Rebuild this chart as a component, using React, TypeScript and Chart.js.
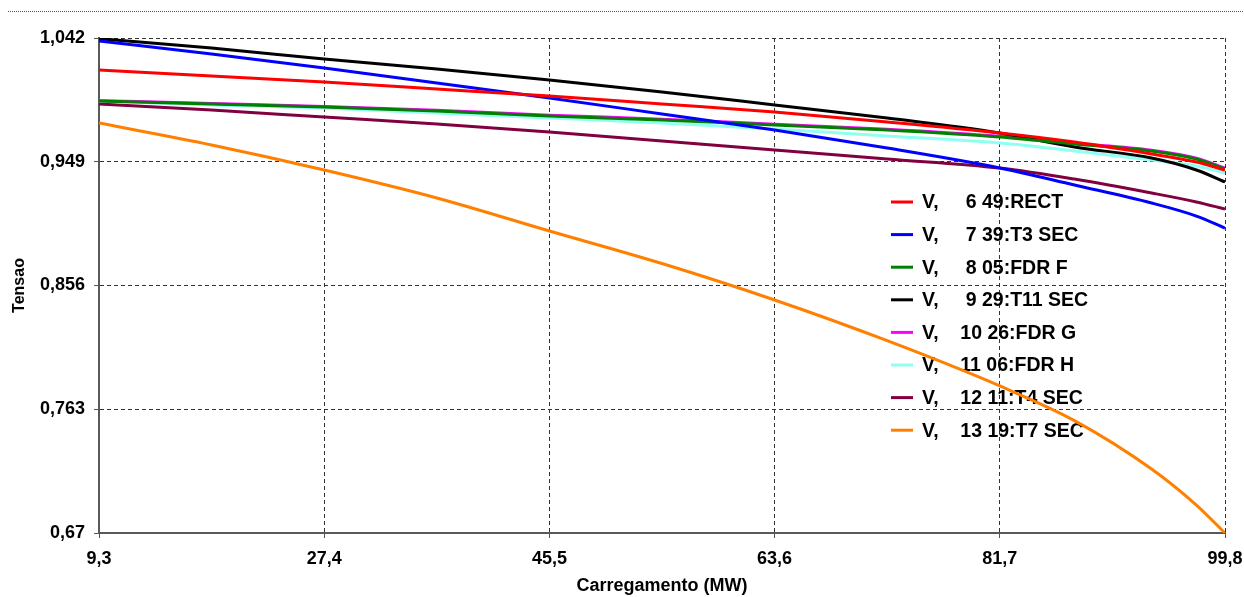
import React, { useEffect, useRef } from 'react';
import { Chart, registerables } from 'chart.js';

Chart.register(...registerables);

// Loading (MW) sample points
const loads = [9.3, 18.35, 27.4, 36.45, 45.5, 54.55, 63.6, 72.65, 81.7, 87.7, 93.9, 97.5, 99.8];

const seriesLabels = [
  'V,     6 49:RECT',
  'V,     7 39:T3 SEC',
  'V,     8 05:FDR F',
  'V,     9 29:T11 SEC',
  'V,    10 26:FDR G',
  'V,    11 06:FDR H',
  'V,    12 11:T4 SEC',
  'V,    13 19:T7 SEC',
];

const seriesColors = ['#FF0000', '#0000FF', '#008000', '#000000', '#FF00FF', '#8FFFEF', '#800040', '#FF8000'];

const v649 = [1.018, 1.0134, 1.0089, 1.0037, 0.9984, 0.9924, 0.9864, 0.9789, 0.9706, 0.9638, 0.9548, 0.9488, 0.9428];
const v739 = [1.0397, 1.03, 1.0195, 1.0082, 0.9969, 0.9849, 0.9729, 0.9593, 0.9443, 0.9315, 0.918, 0.9082, 0.8992];
const v805 = [0.9947, 0.9924, 0.9901, 0.9871, 0.9834, 0.9804, 0.9766, 0.9729, 0.9676, 0.9623, 0.9571, 0.9511, 0.9436];
const v929 = [1.0415, 1.0345, 1.0262, 1.0187, 1.0104, 1.0014, 0.9917, 0.9819, 0.9706, 0.9601, 0.9518, 0.9428, 0.9338];
const v1026 = [0.9949, 0.9928, 0.9906, 0.9877, 0.984, 0.981, 0.9772, 0.9735, 0.9682, 0.9629, 0.9577, 0.9517, 0.9442];
const v1106 = [0.9947, 0.9917, 0.9894, 0.9856, 0.9819, 0.9781, 0.9736, 0.9684, 0.9631, 0.9571, 0.9503, 0.9458, 0.9405];
const v1211 = [0.9924, 0.9879, 0.9826, 0.9774, 0.9714, 0.9646, 0.9578, 0.9511, 0.9443, 0.936, 0.9255, 0.9188, 0.9135];
const v1319 = [0.9781, 0.9616, 0.9428, 0.9218, 0.897, 0.8725, 0.8451, 0.8145, 0.7805, 0.7545, 0.7181, 0.691, 0.67];

const seriesValues = [v649, v739, v805, v929, v1026, v1106, v1211, v1319];

const xTicks = [9.3, 27.4, 45.5, 63.6, 81.7, 99.8];
const xTickLabels = ['9,3', '27,4', '45,5', '63,6', '81,7', '99,8'];
const yTicks = [0.67, 0.763, 0.856, 0.949, 1.042];
const yTickLabels = ['0,67', '0,763', '0,856', '0,949', '1,042'];

const FONT = '"Liberation Sans", Arial, sans-serif';

const pagePlugin = {
  id: 'pageLine',
  beforeDraw(chart: any) {
    const ctx = chart.ctx;
    ctx.save();
    ctx.strokeStyle = '#555';
    ctx.lineWidth = 1;
    ctx.setLineDash([1, 1]);
    ctx.beginPath();
    ctx.moveTo(8, 11.5);
    ctx.lineTo(chart.width, 11.5);
    ctx.stroke();
    ctx.restore();
  },
};

const legendPlugin = {
  id: 'insideLegend',
  beforeDatasetsDraw(chart: any) {
    const ctx = chart.ctx;
    const ca = chart.chartArea;
    const x0 = ca.left + 792;
    const y0 = ca.top + 164;
    const step = 32.6;
    ctx.save();
    chart.data.datasets.forEach((ds: any, i: number) => {
      const y = y0 + i * step;
      ctx.strokeStyle = ds.borderColor;
      ctx.lineWidth = 3;
      ctx.setLineDash([]);
      ctx.beginPath();
      ctx.moveTo(x0, y);
      ctx.lineTo(x0 + 22, y);
      ctx.stroke();
      ctx.fillStyle = '#000';
      ctx.font = 'bold 19.5px ' + FONT;
      ctx.textBaseline = 'middle';
      ctx.textAlign = 'left';
      ctx.fillText(ds.label, x0 + 31, y + 1);
    });
    ctx.restore();
  },
};

export default function App() {
  const ref = useRef<HTMLCanvasElement>(null);

  useEffect(() => {
    if (!ref.current) return;
    const datasets = seriesValues.map((vals, i) => ({
      label: seriesLabels[i],
      data: loads.map((x, j) => ({ x, y: vals[j] })),
      borderColor: seriesColors[i],
      backgroundColor: seriesColors[i],
      borderWidth: 3,
      pointRadius: 0,
      fill: false,
      cubicInterpolationMode: 'monotone' as const,
    }));

    const gridCommon = {
      color: '#333',
      lineWidth: 1,
      borderDash: [4, 3],
      drawTicks: true,
      tickLength: 5,
      tickColor: '#555',
      tickWidth: 1,
      tickBorderDash: [],
    };

    const chart = new Chart(ref.current, {
      type: 'line',
      data: { datasets },
      plugins: [pagePlugin, legendPlugin],
      options: {
        animation: false,
        responsive: false,
        maintainAspectRatio: false,
        layout: { padding: { left: 0, top: 38, right: 19, bottom: 0 } },
        plugins: { legend: { display: false }, tooltip: { enabled: false } },
        scales: {
          x: {
            type: 'linear',
            min: 9.3,
            max: 99.8,
            afterBuildTicks: (s: any) => {
              s.ticks = xTicks.map((v) => ({ value: v }));
            },
            afterFit: (s: any) => {
              s.height = 64;
              s.paddingLeft = 0;
              s.paddingRight = 0;
            },
            ticks: {
              color: '#000',
              padding: 10,
              maxRotation: 0,
              autoSkip: false,
              font: { family: FONT, size: 18, weight: 'bold' },
              callback: (_v: any, i: number) => xTickLabels[i],
            },
            grid: gridCommon as any,
            border: { display: true, color: '#595959', width: 2, dash: [4, 3] },
            title: {
              display: true,
              text: 'Carregamento (MW)',
              color: '#000',
              padding: { top: 0, bottom: 0 },
              font: { family: FONT, size: 18, weight: 'bold', lineHeight: 1.2 },
            },
          },
          y: {
            type: 'linear',
            min: 0.67,
            max: 1.042,
            afterBuildTicks: (s: any) => {
              s.ticks = yTicks.map((v) => ({ value: v }));
            },
            afterFit: (s: any) => {
              s.width = 99;
              s.paddingTop = 0;
              s.paddingBottom = 0;
            },
            ticks: {
              color: '#000',
              padding: 9,
              autoSkip: false,
              font: { family: FONT, size: 18, weight: 'bold' },
              callback: (_v: any, i: number) => yTickLabels[i],
            },
            grid: gridCommon as any,
            border: { display: true, color: '#595959', width: 2, dash: [4, 3] },
            title: {
              display: true,
              text: 'Tensao',
              color: '#000',
              padding: { top: 10, bottom: 0 },
              font: { family: FONT, size: 16, weight: 'bold', lineHeight: 1.2 },
            },
          },
        },
      } as any,
    });
    return () => chart.destroy();
  }, []);

  return (
    <div style={{ position: 'fixed', left: 0, top: 0, width: 1244, height: 597, background: '#fff' }}>
      <canvas ref={ref} width={1244} height={597} style={{ display: 'block' }} />
    </div>
  );
}
